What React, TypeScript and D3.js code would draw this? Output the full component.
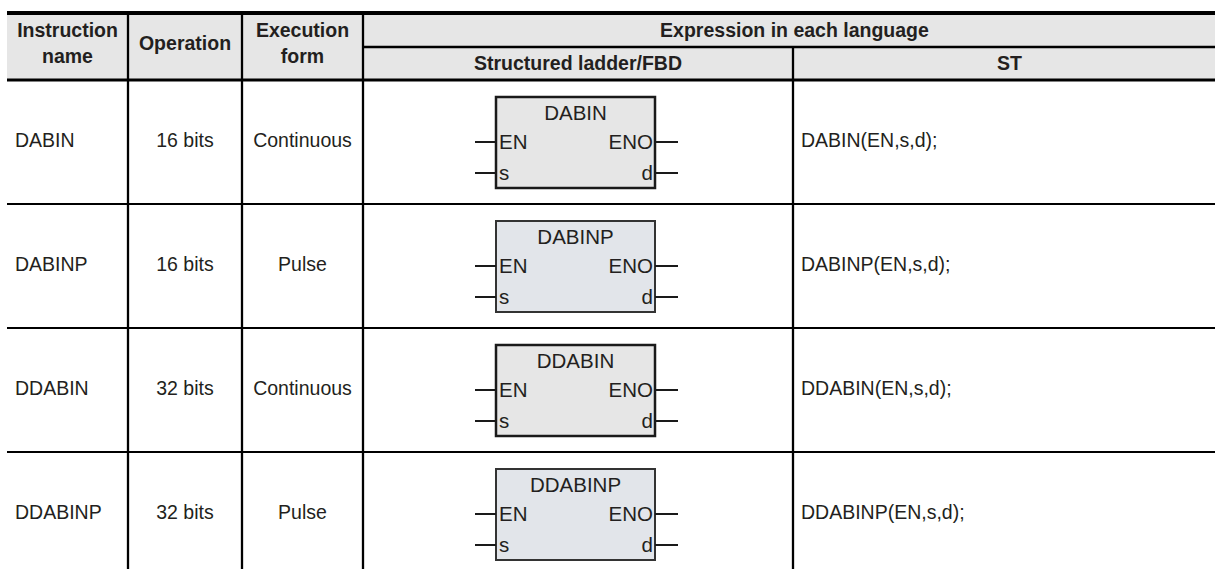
import React, { useEffect, useRef } from 'react';
import * as d3 from 'd3';

// table content
const instructionNames = ['DABIN', 'DABINP', 'DDABIN', 'DDABINP'];
const operations = ['16 bits', '16 bits', '32 bits', '32 bits'];
const executionForms = ['Continuous', 'Pulse', 'Continuous', 'Pulse'];
const stExpressions = ['DABIN(EN,s,d);', 'DABINP(EN,s,d);', 'DDABIN(EN,s,d);', 'DDABINP(EN,s,d);'];
const inputPins = ['EN', 's'];
const outputPins = ['ENO', 'd'];

const W = 1215;
const H = 569;
const FONT = '"Liberation Sans", Arial, sans-serif';

/* App: draws the instruction table with its FBD blocks */
export default function App() {
  const ref = useRef<SVGSVGElement>(null);

  useEffect(() => {
    const svg = d3.select(ref.current);
    svg.selectAll('*').remove();

    const left = 7, right = 1226;
    const cols = [left, 128, 242, 363, 793, right];
    const top = 13, midHead = 47, headBottom = 80;
    const rowH = 124;

    const y = d3.scaleBand<string>()
      .domain(instructionNames)
      .range([headBottom, headBottom + rowH * instructionNames.length])
      .paddingInner(0).paddingOuter(0);

    // header background
    svg.append('rect').attr('x', left).attr('y', top).attr('width', right - left).attr('height', headBottom - top).attr('fill', '#e6e6e6');

    const text = (x: number, yy: number, s: string, anchor = 'start', bold = false, size = 19.5) =>
      svg.append('text').attr('x', x).attr('y', yy).attr('text-anchor', anchor)
        .attr('font-family', FONT).attr('font-size', size).attr('font-weight', bold ? 'bold' : 'normal')
        .attr('fill', '#231f20').text(s);

    // header texts
    const mid = (a: number, b: number) => (a + b) / 2;
    text(mid(cols[0], cols[1]), 37, 'Instruction', 'middle', true);
    text(mid(cols[0], cols[1]), 63, 'name', 'middle', true);
    text(mid(cols[1], cols[2]), 50, 'Operation', 'middle', true);
    text(mid(cols[2], cols[3]), 37, 'Execution', 'middle', true);
    text(mid(cols[2], cols[3]), 63, 'form', 'middle', true);
    text(mid(cols[3], cols[5]), 37, 'Expression in each language', 'middle', true);
    text(mid(cols[3], cols[4]), 70, 'Structured ladder/FBD', 'middle', true);
    text(mid(cols[4], cols[5]), 70, 'ST', 'middle', true);

    // rows
    instructionNames.forEach((name, i) => {
      const ry = y(name) as number;
      const base = ry + 67;
      text(15, base, name);
      text(mid(cols[1], cols[2]), base, operations[i], 'middle');
      text(mid(cols[2], cols[3]), base, executionForms[i], 'middle');
      text(cols[4] + 8, base, stExpressions[i]);

      // FBD block
      const pulse = i % 2 === 1;
      const bx = 496, bw = 159;
      const g = svg.append('g');
      g.append('rect').attr('x', bx).attr('y', ry + 17).attr('width', bw).attr('height', 91)
        .attr('fill', pulse ? '#e2e5ea' : '#e6e6e6')
        .attr('stroke', pulse ? '#333' : '#1a1a1a').attr('stroke-width', pulse ? 2 : 2.5);
      text(bx + bw / 2, ry + 39.5, name, 'middle', false, 20.5);
      const pinY = [ry + 62, ry + 93];
      inputPins.forEach((p, k) => {
        g.append('line').attr('x1', 475).attr('x2', bx).attr('y1', pinY[k]).attr('y2', pinY[k]).attr('stroke', '#1a1a1a').attr('stroke-width', 2);
        text(bx + 3, pinY[k] + 7, p, 'start', false, 20.5);
      });
      outputPins.forEach((p, k) => {
        g.append('line').attr('x1', bx + bw).attr('x2', 678).attr('y1', pinY[k]).attr('y2', pinY[k]).attr('stroke', '#1a1a1a').attr('stroke-width', 2);
        text(bx + bw - 2, pinY[k] + 7, p, 'end', false, 20.5);
      });

      // row separator
      if (i < instructionNames.length - 1) {
        svg.append('line').attr('x1', left).attr('x2', right).attr('y1', ry + rowH).attr('y2', ry + rowH)
          .attr('stroke', '#000').attr('stroke-width', 2.2);
      }
    });

    const bottom = headBottom + rowH * instructionNames.length;
    // vertical lines
    [cols[1], cols[2], cols[3]].forEach(x => {
      svg.append('line').attr('x1', x).attr('x2', x).attr('y1', top).attr('y2', bottom).attr('stroke', '#000').attr('stroke-width', 2.3);
    });
    svg.append('line').attr('x1', cols[4]).attr('x2', cols[4]).attr('y1', midHead).attr('y2', bottom).attr('stroke', '#000').attr('stroke-width', 2.3);

    // horizontal header lines
    svg.append('line').attr('x1', left).attr('x2', right).attr('y1', top).attr('y2', top).attr('stroke', '#000').attr('stroke-width', 4);
    svg.append('line').attr('x1', cols[3]).attr('x2', right).attr('y1', midHead).attr('y2', midHead).attr('stroke', '#000').attr('stroke-width', 2.5);
    svg.append('line').attr('x1', left).attr('x2', right).attr('y1', headBottom).attr('y2', headBottom).attr('stroke', '#000').attr('stroke-width', 3);
  }, []);

  return (
    <svg ref={ref} width={W} height={H} style={{ position: 'absolute', left: 0, top: 0, background: '#fff' }} />
  );
}
